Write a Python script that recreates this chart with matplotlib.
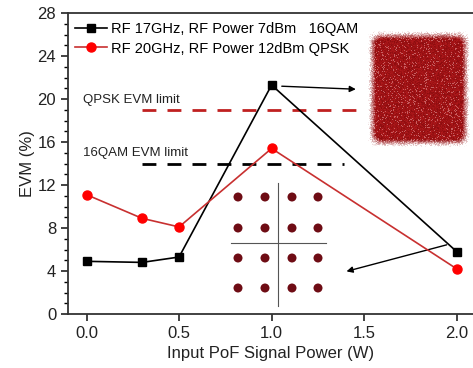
import numpy as np
import matplotlib.pyplot as plt
from matplotlib.ticker import MultipleLocator

plt.rcParams['font.family'] = ['Liberation Sans', 'DejaVu Sans']

# data
power_16qam = [0.0, 0.3, 0.5, 1.0, 2.0]
evm_16qam = [4.9, 4.8, 5.3, 21.3, 5.8]
power_qpsk = [0.0, 0.3, 0.5, 1.0, 2.0]
evm_qpsk = [11.1, 8.9, 8.1, 15.4, 4.2]
label_16qam = 'RF 17GHz, RF Power 7dBm   16QAM'
label_qpsk = 'RF 20GHz, RF Power 12dBm QPSK'
qpsk_limit = 19.0
qam_limit = 14.0

fig = plt.figure(figsize=(4.73, 3.68), dpi=100)
ax = fig.add_axes([68 / 473, 54 / 368, 405 / 473, 301 / 368])

ax.plot(power_16qam, evm_16qam, color='black', marker='s', markersize=6,
        linewidth=1.2, label=label_16qam, zorder=4)
ax.plot(power_qpsk, evm_qpsk, color='#c83030', marker='o', markersize=6.5,
        markerfacecolor='red', markeredgecolor='red',
        linewidth=1.2, label=label_qpsk, zorder=4)

# EVM limits
ax.plot([0.30, 1.51], [qpsk_limit, qpsk_limit], color='#c02020', linewidth=2,
        dashes=(5, 4), zorder=2)
ax.plot([0.30, 1.39], [qam_limit, qam_limit], color='black', linewidth=2,
        dashes=(5, 4), zorder=2)
ax.text(-0.02, 19.9, 'QPSK EVM limit', fontsize=9.5, color='#222222', va='center')
ax.text(-0.02, 15.0, '16QAM EVM limit', fontsize=9.5, color='#222222', va='center')

ax.set_xlim(-0.1, 2.088)
ax.set_ylim(0, 28)
ax.xaxis.set_major_locator(MultipleLocator(0.5))
ax.yaxis.set_major_locator(MultipleLocator(4))
ax.yaxis.set_minor_locator(MultipleLocator(1))
ax.tick_params(axis='both', which='major', direction='out', length=5,
               width=1.2, labelsize=12, colors='#222222')
ax.tick_params(axis='y', which='minor', direction='out', length=3, width=1)
ax.spines['right'].set_visible(False)
for s in ['left', 'bottom', 'top']:
    ax.spines[s].set_linewidth(1.3)
    ax.spines[s].set_color('#333333')
ax.xaxis.set_major_formatter(plt.FormatStrFormatter('%.1f'))
ax.set_xlabel('Input PoF Signal Power (W)', fontsize=12, color='#222222', labelpad=4)
ax.set_ylabel('EVM (%)', fontsize=12, color='#222222', labelpad=2)

ax.legend(loc='upper left', frameon=False, fontsize=10.5, handlelength=2.2,
          handletextpad=0.3, borderaxespad=0.2, labelspacing=0.4,
          bbox_to_anchor=(-0.005, 1.0))

# arrows pointing at the constellation insets
ax.annotate('', xy=(1.47, 20.9), xytext=(1.04, 21.2),
            arrowprops=dict(arrowstyle='-|>', color='black', lw=1, mutation_scale=9))
ax.annotate('', xy=(1.39, 3.9), xytext=(1.96, 6.5),
            arrowprops=dict(arrowstyle='-|>', color='black', lw=1, mutation_scale=9))

# 16QAM constellation inset
qam = fig.add_axes([228 / 473, 58 / 368, 102 / 473, 128 / 368])
qam.set_xlim(0, 102)
qam.set_ylim(128, 0)
qam.axis('off')
qam.patch.set_alpha(0)
qx = [10, 37, 64, 90]
qy = [15, 46, 76, 106]
gx, gy = np.meshgrid(qx, qy)
qam.scatter(gx.ravel(), gy.ravel(), s=42, color='#6e0c14', edgecolors='none')
qam.plot([50, 50], [1, 124], color='#555555', lw=0.8)
qam.plot([3, 98], [61, 61], color='#555555', lw=0.8)

# QPSK noisy constellation inset (deterministic texture)
qp = fig.add_axes([365 / 473, 218 / 368, 108 / 473, 122 / 368])
qp.axis('off')
h, w = 122, 108
yy, xx = np.mgrid[0:h, 0:w]
tex = np.sin(xx * 12.9898 + yy * 78.233) * 43758.5453
tex = tex - np.floor(tex)
ex = np.clip(np.minimum(xx - 2, w - 3 - xx) / 12.0, 0, 1)
ey = np.clip(np.minimum(yy - 2, h - 3 - yy) / 12.0, 0, 1)
edge = ex * ey
alpha = np.clip(edge * 1.6 - 0.6 * tex * (1 - edge), 0, 1)
alpha = np.where(tex > 0.9, alpha * 0.7, alpha)
img = np.zeros((h, w, 4))
img[..., 0] = 0.55 + 0.15 * tex
img[..., 1] = 0.05 + 0.05 * tex
img[..., 2] = 0.06 + 0.05 * tex
img[..., 3] = alpha
qp.imshow(img, aspect='auto', interpolation='bilinear')

fig.savefig('out.png', dpi=100)
